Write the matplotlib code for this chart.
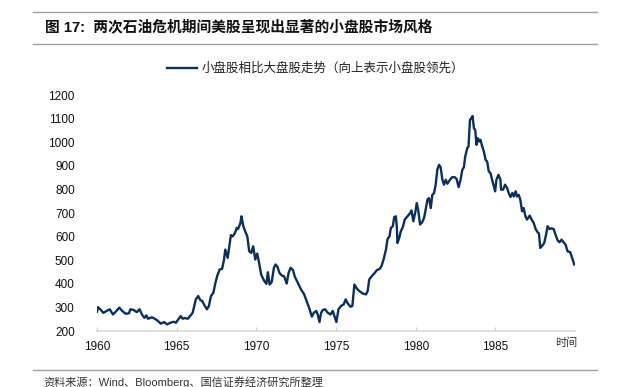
import matplotlib
matplotlib.use('Agg')
import matplotlib.pyplot as plt
from matplotlib.lines import Line2D

plt.rcParams['font.family'] = ['Liberation Sans', 'Noto Sans CJK SC', 'DejaVu Sans']

# 小盘股相比大盘股走势
years = [
    1960.0, 1960.06, 1960.2, 1960.4, 1960.6, 1960.8, 1961.0, 1961.15, 1961.4, 1961.58,
    1961.8, 1962.0, 1962.1, 1962.3, 1962.5, 1962.67, 1962.82, 1962.97, 1963.1, 1963.2,
    1963.45, 1963.7, 1963.9, 1964.0, 1964.2, 1964.4, 1964.6, 1964.8, 1964.95, 1965.1,
    1965.25, 1965.38, 1965.5, 1965.7, 1966.0, 1966.1, 1966.2, 1966.35, 1966.48, 1966.6,
    1966.75, 1966.9, 1967.02, 1967.15, 1967.3, 1967.43, 1967.55, 1967.7, 1967.85, 1967.97,
    1968.05, 1968.2, 1968.3, 1968.4, 1968.52, 1968.65, 1968.77, 1968.85, 1969.0, 1969.06,
    1969.18, 1969.3, 1969.43, 1969.55, 1969.68, 1969.8, 1969.93, 1970.05, 1970.17, 1970.3,
    1970.5, 1970.63, 1970.72, 1970.83, 1970.96, 1971.1, 1971.2, 1971.32, 1971.45, 1971.6,
    1971.74, 1971.9, 1972.02, 1972.15, 1972.3, 1972.4, 1972.55, 1972.8, 1973.0, 1973.17,
    1973.33, 1973.48, 1973.6, 1973.75, 1973.85, 1973.96, 1974.06, 1974.17, 1974.31, 1974.48,
    1974.65, 1974.79, 1974.9, 1975.02, 1975.15, 1975.31, 1975.48, 1975.6, 1975.73, 1975.9,
    1976.02, 1976.15, 1976.31, 1976.46, 1976.67, 1976.88, 1976.98, 1977.08, 1977.23, 1977.4,
    1977.56, 1977.73, 1977.85, 1977.98, 1978.13, 1978.23, 1978.35, 1978.44, 1978.56, 1978.65,
    1978.75, 1978.81, 1978.85, 1978.96, 1979.06, 1979.19, 1979.31, 1979.48, 1979.65, 1979.73,
    1979.85, 1979.98, 1980.06, 1980.15, 1980.27, 1980.4, 1980.52, 1980.6, 1980.73, 1980.83,
    1980.94, 1981.04, 1981.15, 1981.25, 1981.35, 1981.46, 1981.56, 1981.67, 1981.77, 1981.88,
    1981.98, 1982.15, 1982.29, 1982.44, 1982.56, 1982.69, 1982.81, 1982.92, 1983.02, 1983.1,
    1983.23, 1983.31, 1983.4, 1983.48, 1983.56, 1983.65, 1983.73, 1983.81, 1983.9, 1983.98,
    1984.06, 1984.17, 1984.27, 1984.38, 1984.48, 1984.58, 1984.69, 1984.79, 1984.9, 1984.98,
    1985.06, 1985.19, 1985.31, 1985.35, 1985.48, 1985.6, 1985.73, 1985.83, 1985.94, 1986.06,
    1986.15, 1986.27, 1986.35, 1986.46, 1986.56, 1986.67, 1986.77, 1986.88, 1986.98, 1987.15,
    1987.27, 1987.4, 1987.52, 1987.65, 1987.73, 1987.81, 1987.94, 1988.06, 1988.19, 1988.27,
    1988.4, 1988.52, 1988.65, 1988.77, 1988.9, 1989.02, 1989.15, 1989.27, 1989.4, 1989.52,
    1989.69, 1989.81, 1989.94,
]
values = [
    282, 301, 292, 277, 285, 292, 270, 280, 299, 285,
    273, 275, 292, 289, 280, 292, 270, 256, 266, 252,
    258, 249, 238, 231, 238, 228, 235, 239, 235, 249,
    263, 252, 255, 252, 277, 306, 334, 348, 331, 327,
    308, 292, 306, 348, 362, 404, 435, 461, 463, 503,
    545, 510, 559, 606, 601, 615, 637, 632, 658, 686,
    644, 622, 601, 538, 531, 559, 503, 528, 489, 439,
    411, 400, 449, 397, 407, 468, 482, 472, 446, 435,
    432, 401, 446, 468, 458, 432, 411, 376, 355, 323,
    294, 261, 277, 285, 270, 238, 277, 289, 292, 277,
    270, 285, 263, 238, 292, 306, 313, 334, 317, 303,
    306, 397, 379, 369, 359, 355, 369, 418, 432, 444,
    458, 463, 475, 503, 545, 590, 601, 637, 644, 683,
    686, 644, 573, 594, 622, 641, 672, 686, 700, 711,
    665, 707, 742, 714, 651, 661, 679, 707, 756, 763,
    721, 777, 785, 820, 883, 904, 894, 841, 820, 841,
    824, 841, 852, 852, 844, 810, 841, 883, 894, 939,
    975, 982, 1094, 1101, 1111, 1059, 1052, 989, 1017, 1003,
    1010, 982, 961, 925, 918, 876, 869, 841, 813, 792,
    841, 862, 841, 799, 799, 820, 806, 785, 768, 785,
    770, 792, 770, 777, 756, 707, 721, 686, 672, 689,
    672, 658, 632, 618, 613, 552, 562, 573, 613, 644,
    632, 635, 632, 608, 584, 576, 587, 576, 566, 538,
    534, 510, 482,
]

x_ticks = [1960, 1965, 1970, 1975, 1980, 1985]
y_ticks = [200, 300, 400, 500, 600, 700, 800, 900, 1000, 1100, 1200]

title = '图 17:  两次石油危机期间美股呈现出显著的小盘股市场风格'
legend_label = '小盘股相比大盘股走势（向上表示小盘股领先）'
source = '资料来源：Wind、Bloomberg、国信证券经济研究所整理'

line_color = '#0c2f5c'
cjk = ['Noto Sans CJK SC', 'DejaVu Sans']
mixed = ['Liberation Sans', 'Noto Sans CJK SC']

fig = plt.figure(figsize=(6.23, 3.87), dpi=100)
ax = fig.add_axes([0.1557, 0.1447, 0.7675, 0.6098])

ax.plot(years, values, color=line_color, lw=1.7, solid_joinstyle='round')

ax.set_xlim(1960, 1990)
ax.set_ylim(200, 1200)
ax.set_xticks(x_ticks)
ax.set_yticks(y_ticks)
ax.tick_params(axis='y', length=0, pad=16, labelsize=8.5, labelcolor='#111111')
ax.tick_params(axis='x', direction='in', length=3, width=0.8, color='#d0d0d0',
               pad=7, labelsize=8.5, labelcolor='#111111')
for side in ['top', 'right', 'left']:
    ax.spines[side].set_visible(False)
ax.spines['bottom'].set_color('#d9d9d9')
ax.spines['bottom'].set_linewidth(1.2)

fig.text(566 / 623, 1 - 343 / 387, '时间', family=cjk, fontsize=8,
         ha='center', va='center', color='#333333')

# header / footer rules
for yy in [12, 44, 370]:
    fig.add_artist(Line2D([33 / 623, 597 / 623], [1 - yy / 387] * 2,
                          color='#a0a0a0', lw=1.0))

fig.text(45 / 623, 1 - 27 / 387, title, family=mixed, fontsize=10.6,
         fontweight='bold', ha='left', va='center', color='#111111')

# legend
fig.add_artist(Line2D([167 / 623, 197 / 623], [1 - 68 / 387] * 2,
                      color=line_color, lw=1.7))
fig.text(202 / 623, 1 - 68 / 387, legend_label, family=cjk, fontsize=9,
         ha='left', va='center', color='#222222')

fig.text(43 / 623, 1 - 382 / 387, source, family=mixed, fontsize=8,
         ha='left', va='center', color='#333333')

fig.savefig('out.png', dpi=100)
